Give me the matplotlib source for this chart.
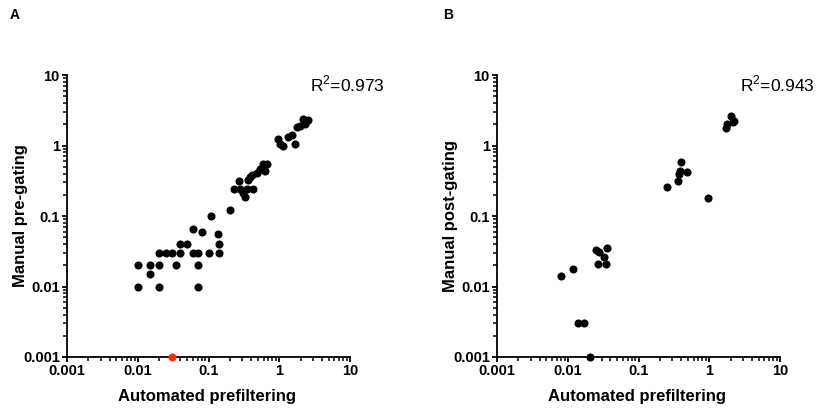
import numpy as np
import matplotlib
matplotlib.use('Agg')
import matplotlib.pyplot as plt
from matplotlib.ticker import LogLocator, FixedLocator, FixedFormatter, NullFormatter

plt.rcParams['font.family'] = ['Liberation Sans', 'DejaVu Sans']
plt.rcParams['mathtext.fontset'] = 'custom'
plt.rcParams['mathtext.rm'] = 'Liberation Sans'

# ---- 数据: A 面板 (自动预过滤 vs 手动预门控)
a_x = [0.01, 0.01, 0.015, 0.015, 0.02, 0.02, 0.02, 0.025, 0.03, 0.035, 0.04, 0.04,
       0.05, 0.06, 0.06, 0.07, 0.07, 0.07, 0.08, 0.1, 0.11, 0.134, 0.14, 0.14, 0.2,
       0.23, 0.265, 0.28, 0.305, 0.33, 0.347, 0.366, 0.386, 0.42, 0.41, 0.48, 0.535,
       0.595, 0.63, 0.66,
       0.97, 1.02, 1.11, 1.31, 1.52, 1.68, 1.75, 1.95, 2.13, 2.38, 2.56, 2.30]
a_y = [0.02, 0.01, 0.02, 0.015, 0.03, 0.02, 0.01, 0.03, 0.03, 0.02, 0.04, 0.03,
       0.04, 0.065, 0.03, 0.03, 0.02, 0.01, 0.06, 0.03, 0.1, 0.055, 0.04, 0.03, 0.12,
       0.24, 0.31, 0.24, 0.215, 0.187, 0.244, 0.32, 0.357, 0.24, 0.385, 0.41, 0.47,
       0.55, 0.43, 0.55,
       1.22, 1.06, 0.98, 1.34, 1.43, 1.06, 1.82, 1.87, 2.38, 2.21, 2.30, 2.02]
a_red_x = [0.03]
a_red_y = [0.001]
a_r2 = 'R$^{2}$=0.973'

# ---- 数据: B 面板 (自动预过滤 vs 手动后门控)
b_x = [0.0079, 0.0119, 0.0139, 0.0168, 0.0209, 0.025, 0.028, 0.027, 0.033, 0.0356,
       0.0348, 0.252, 0.361, 0.377, 0.39, 0.398, 0.484, 0.947, 1.72, 1.76, 2.02,
       2.14, 2.25]
b_y = [0.014, 0.0178, 0.003, 0.003, 0.001, 0.033, 0.0305, 0.021, 0.0265, 0.0348,
       0.021, 0.258, 0.314, 0.39, 0.434, 0.588, 0.425, 0.179, 1.78, 2.02, 2.59,
       2.13, 2.25]
b_r2 = 'R$^{2}$=0.943'

tick_vals = [0.001, 0.01, 0.1, 1, 10]
tick_labels = ['0.001', '0.01', '0.1', '1', '10']


def style_axis(ax, ylabel):
    ax.set_xscale('log')
    ax.set_yscale('log')
    ax.set_xlim(0.001, 10)
    ax.set_ylim(0.001, 10)
    for s in ['top', 'right']:
        ax.spines[s].set_visible(False)
    for s in ['left', 'bottom']:
        ax.spines[s].set_linewidth(1.3)
    for axis in [ax.xaxis, ax.yaxis]:
        axis.set_major_locator(FixedLocator(tick_vals))
        axis.set_major_formatter(FixedFormatter(tick_labels))
        axis.set_minor_locator(LogLocator(base=10, subs=np.arange(2, 10), numticks=20))
        axis.set_minor_formatter(NullFormatter())
    ax.tick_params(which='major', length=3.7, width=1.3, labelsize=10.5, pad=1.5)
    ax.tick_params(which='minor', length=2.6, width=1.1)
    for lab in ax.get_xticklabels() + ax.get_yticklabels():
        lab.set_fontweight('bold')
    ax.set_xlabel('Automated prefiltering', fontsize=12, fontweight='bold')
    ax.set_ylabel(ylabel, fontsize=12, fontweight='bold')
    # 标签位置按原图手动放
    ax.xaxis.set_label_coords(0.496, -0.114)
    ax.yaxis.set_label_coords(-0.137, 0.5)


fig = plt.figure(figsize=(8.23, 4.11), dpi=100)
ax1 = fig.add_axes([0.0814, 0.1314, 0.344, 0.686])
ax2 = fig.add_axes([0.6039, 0.1314, 0.344, 0.686])

ax1.scatter(a_x, a_y, s=34, color='black', zorder=3, clip_on=False, linewidths=0)
ax1.scatter(a_red_x, a_red_y, s=34, color='#ff2a00', zorder=4, clip_on=False, linewidths=0)
style_axis(ax1, 'Manual pre-gating')
ax1.text(0.99, 0.943, a_r2, transform=ax1.transAxes, fontsize=12.5, ha='center', va='baseline')

ax2.scatter(b_x, b_y, s=34, color='black', zorder=3, clip_on=False, linewidths=0)
style_axis(ax2, 'Manual post-gating')
ax2.text(0.99, 0.943, b_r2, transform=ax2.transAxes, fontsize=12.5, ha='center', va='baseline')

fig.text(10 / 823, 1 - 15 / 411, 'A', fontsize=10, fontweight='bold', ha='left', va='center')
fig.text(443 / 823, 1 - 15 / 411, 'B', fontsize=10, fontweight='bold', ha='left', va='center')

fig.savefig('out.png', dpi=100)
